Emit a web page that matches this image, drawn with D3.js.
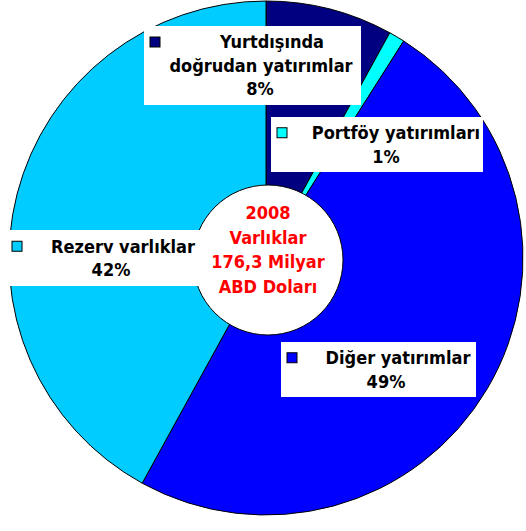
<!DOCTYPE html>
<html>
<head>
<meta charset="utf-8">
<script src="https://cdn.jsdelivr.net/npm/d3@7"></script>
<style>
  html, body { margin: 0; padding: 0; background: #fff; }
  svg { display: block; }
</style>
</head>
<body>
<script>
// 2008 varlıklar dağılımı
var categories = ["Yurtdışında doğrudan yatırımlar", "Portföy yatırımları", "Diğer yatırımlar", "Rezerv varlıklar"];
var values = [8, 1, 49, 42];
var labelLines = [["Yurtdışında", "doğrudan yatırımlar"], ["Portföy yatırımları"], ["Diğer yatırımlar"], ["Rezerv varlıklar"]];
var centerLines = ["2008", "Varlıklar", "176,3 Milyar", "ABD Doları"];

var colors = ["#000080", "#00FFFF", "#0000FF", "#00CCFF"];

// label box layout: box, text center x, percent center x
var boxes = [
    {x: 144, y: 26, w: 217, h: 79, tx: 261, px: 260},
    {x: 271, y: 117, w: 212, h: 55, tx: 396, px: 386},
    {x: 281, y: 342, w: 195, h: 55, tx: 398, px: 386},
    {x: 0, y: 230, w: 200, h: 56, tx: 123, px: 111}
];

var width = 526, height = 531;
var cx = 266, cy = 258, radius = 257;

var svg = d3.select("body")
        .append("svg")
        .attr("width", width)
        .attr("height", height);

var pie = d3.pie().sort(null).value(function(d) { return d; });
var arc = d3.arc().innerRadius(0).outerRadius(radius);

var g = svg.append("g").attr("transform", "translate(" + cx + "," + cy + ")");

g.selectAll("path")
    .data(pie(values))
    .enter()
    .append("path")
    .attr("d", arc)
    .attr("fill", function(d, i) { return colors[i]; })
    .attr("stroke", "#000")
    .attr("stroke-width", 1);

// center circle
svg.append("circle")
    .attr("cx", 268)
    .attr("cy", 260)
    .attr("r", 75)
    .attr("fill", "#fff")
    .attr("stroke", "#000")
    .attr("stroke-width", 1);

var font = "'DejaVu Sans Condensed', 'DejaVu Sans', sans-serif";

centerLines.forEach(function(t, i) {
    svg.append("text")
        .attr("x", 268)
        .attr("y", 213 + i * 24.4)
        .attr("dy", "0.36em")
        .attr("text-anchor", "middle")
        .attr("font-family", font)
        .attr("font-stretch", "condensed")
        .attr("font-weight", "bold")
        .attr("font-size", 18)
        .attr("fill", "#FF0000")
        .text(t);
});

// label boxes
boxes.forEach(function(b, i) {
    var lb = svg.append("g");
    lb.append("rect")
        .attr("x", b.x).attr("y", b.y)
        .attr("width", b.w).attr("height", b.h)
        .attr("fill", "#fff");
    var lines = labelLines[i].concat([values[i] + "%"]);
    var top = b.y + b.h / 2 - (lines.length - 1) * 23.5 / 2;
    lb.append("rect")
        .attr("x", b.x + (i == 3 ? 12 : 6))
        .attr("y", top - 5)
        .attr("width", 10).attr("height", 10)
        .attr("fill", colors[i])
        .attr("stroke", "#000")
        .attr("stroke-width", 1);
    lines.forEach(function(t, j) {
        var x = b.tx;
        if (i == 0 && j == 0) x = 272;
        if (j == lines.length - 1) x = b.px;
        lb.append("text")
            .attr("x", x)
            .attr("y", top + j * 23.5)
            .attr("dy", "0.36em")
            .attr("text-anchor", "middle")
            .attr("font-family", font)
            .attr("font-stretch", "condensed")
            .attr("font-weight", "bold")
            .attr("font-size", 18)
            .attr("fill", "#000")
            .text(t);
    });
});
</script>
</body>
</html>
